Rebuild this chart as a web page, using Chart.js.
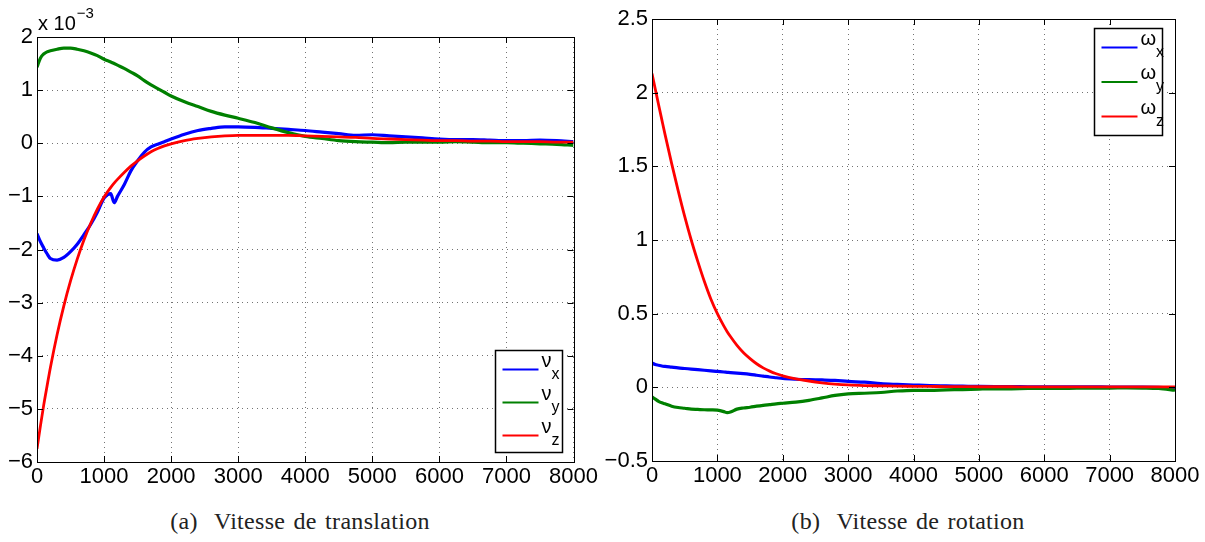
<!DOCTYPE html>
<html>
<head>
<meta charset="utf-8">
<script src="https://cdn.jsdelivr.net/npm/chart.js@4/dist/chart.umd.min.js"></script>
<style>
  html, body { margin: 0; padding: 0; background: #fff; }
  #wrap { position: relative; width: 1205px; height: 542px; overflow: hidden; }
  canvas { position: absolute; top: 0; }
  #cTrans { left: 0; }
  #cRot { left: 600px; }
  .caption {
    position: absolute; top: 508px;
    font-family: "Liberation Serif", "DejaVu Serif", serif;
    font-size: 24px; letter-spacing: 0.3px; word-spacing: 2px;
    color: #222; white-space: nowrap;
    transform: translateX(-50%);
  }
</style>
</head>
<body>
<div id="wrap">
  <canvas id="cTrans" width="600" height="500"></canvas>
  <canvas id="cRot" width="605" height="500"></canvas>
  <div class="caption" style="left:300px">(a)&nbsp; Vitesse de translation</div>
  <div class="caption" style="left:908px">(b)&nbsp; Vitesse de rotation</div>
</div>
<script>
'use strict';

// sample instants (shared by all series)
const T = [0, 50, 100, 150, 200, 300, 400, 500, 600, 700, 800, 900, 1000, 1100, 1150, 1200,
  1300, 1400, 1500, 1600, 1700, 1800, 1900, 2000, 2200, 2400, 2600, 2800, 3000, 3250, 3500,
  3750, 4000, 4250, 4500, 4750, 5000, 5250, 5500, 5750, 6000, 6250, 6500, 6750, 7000, 7250,
  7500, 7750, 8000];

// translation speed (x 1e-3)
const NU_X = [-1.7, -1.85, -1.97, -2.08, -2.17, -2.2, -2.15, -2.04, -1.9, -1.72, -1.53, -1.3,
  -1.03, -0.95, -1.12, -1.0, -0.78, -0.52, -0.33, -0.17, -0.07, -0.02, 0.03, 0.08, 0.17, 0.24,
  0.28, 0.31, 0.31, 0.3, 0.28, 0.26, 0.24, 0.21, 0.18, 0.15, 0.16, 0.14, 0.12, 0.1, 0.08, 0.07,
  0.07, 0.06, 0.05, 0.05, 0.06, 0.05, 0.03];
const NU_Y = [1.43, 1.6, 1.68, 1.72, 1.74, 1.77, 1.79, 1.79, 1.77, 1.74, 1.7, 1.65, 1.58, 1.53,
  1.5, 1.47, 1.41, 1.34, 1.27, 1.18, 1.1, 1.03, 0.96, 0.89, 0.78, 0.69, 0.6, 0.53, 0.47, 0.39,
  0.29, 0.2, 0.13, 0.09, 0.05, 0.03, 0.02, 0.01, 0.02, 0.02, 0.02, 0.03, 0.02, 0.01, 0.01, 0.0,
  -0.01, -0.02, -0.04];
const NU_Z = [-5.75, -5.33, -4.93, -4.57, -4.22, -3.6, -3.06, -2.59, -2.18, -1.82, -1.51, -1.24,
  -1.01, -0.83, -0.75, -0.68, -0.55, -0.43, -0.33, -0.24, -0.16, -0.1, -0.05, -0.01, 0.05, 0.09,
  0.12, 0.14, 0.15, 0.15, 0.15, 0.15, 0.14, 0.13, 0.12, 0.11, 0.09, 0.08, 0.07, 0.06, 0.05, 0.05,
  0.04, 0.04, 0.03, 0.03, 0.03, 0.02, 0.02];

// rotation speed
const OM_X = [0.165, 0.155, 0.15, 0.145, 0.142, 0.137, 0.132, 0.128, 0.124, 0.12, 0.116, 0.112,
  0.108, 0.104, 0.102, 0.1, 0.097, 0.093, 0.088, 0.082, 0.076, 0.07, 0.065, 0.06, 0.055, 0.052,
  0.05, 0.047, 0.04, 0.035, 0.025, 0.02, 0.016, 0.012, 0.01, 0.008, 0.006, 0.005, 0.005, 0.004,
  0.004, 0.003, 0.003, 0.003, 0.002, 0.002, 0.002, 0.0, -0.005];
const OM_Y = [-0.065, -0.08, -0.095, -0.105, -0.112, -0.128, -0.137, -0.142, -0.148, -0.15,
  -0.152, -0.153, -0.155, -0.165, -0.172, -0.168, -0.148, -0.14, -0.135, -0.128, -0.122, -0.117,
  -0.112, -0.108, -0.1, -0.088, -0.072, -0.055, -0.045, -0.04, -0.035, -0.025, -0.02, -0.02,
  -0.017, -0.015, -0.012, -0.01, -0.01, -0.008, -0.008, -0.007, -0.006, -0.005, -0.005, -0.004,
  -0.005, -0.008, -0.02];
const OM_Z = [2.13, 2.025, 1.92, 1.817, 1.715, 1.52, 1.335, 1.16, 1.0, 0.855, 0.72, 0.6, 0.5,
  0.415, 0.378, 0.345, 0.285, 0.235, 0.195, 0.16, 0.132, 0.11, 0.092, 0.078, 0.058, 0.043, 0.031,
  0.022, 0.016, 0.012, 0.01, 0.008, 0.007, 0.006, 0.005, 0.005, 0.004, 0.004, 0.004, 0.003, 0.003,
  0.003, 0.003, 0.003, 0.003, 0.003, 0.003, 0.003, 0.003];

const X_TICKS = { min: 0, max: 8000, step: 1000 };
const V_TICKS = { min: -6, max: 2, step: 1 };
const W_TICKS = { min: -0.5, max: 2.5, step: 0.5 };

const COLORS = ['#0000ff', '#008000', '#ff0000'];
const SANS = '"Liberation Sans Narrow", "Liberation Sans", Arial, sans-serif';
const TICK_FONT = { family: SANS, size: 22 };

const pts = ys => T.map((t, i) => ({ x: t, y: ys[i] }));
const minus = v => String(v).replace('-', '\u2212');

// box around the axes, inward tick marks, legend and exponent label
const axesDecor = {
  id: 'axesDecor',
  afterDraw(chart, args, opts) {
    const { ctx, chartArea: a, scales } = chart;
    ctx.save();
    ctx.strokeStyle = '#000';
    ctx.lineWidth = 1;
    ctx.beginPath();
    const tl = 6;
    scales.x.ticks.forEach(t => {
      const px = Math.round(scales.x.getPixelForValue(t.value)) + 0.5;
      ctx.moveTo(px, a.bottom); ctx.lineTo(px, a.bottom - tl);
      ctx.moveTo(px, a.top); ctx.lineTo(px, a.top + tl);
    });
    scales.y.ticks.forEach(t => {
      const py = Math.round(scales.y.getPixelForValue(t.value)) + 0.5;
      ctx.moveTo(a.left, py); ctx.lineTo(a.left + tl, py);
      ctx.moveTo(a.right, py); ctx.lineTo(a.right - tl, py);
    });
    ctx.stroke();
    ctx.strokeRect(Math.round(a.left) + 0.5, Math.round(a.top) + 0.5,
      Math.round(a.right - a.left), Math.round(a.bottom - a.top));

    // legend
    const L = opts.legend;
    ctx.fillStyle = '#fff';
    ctx.fillRect(L.x, L.y, L.w, L.h);
    ctx.lineWidth = 1.5;
    ctx.strokeRect(L.x, L.y, L.w, L.h);
    chart.data.datasets.forEach((ds, i) => {
      const ly = L.y + L.first + i * L.gap;
      ctx.strokeStyle = ds.borderColor;
      ctx.lineWidth = 2.2;
      ctx.beginPath();
      ctx.moveTo(L.x + 7, ly); ctx.lineTo(L.x + 43, ly);
      ctx.stroke();
      ctx.fillStyle = '#000';
      ctx.textBaseline = 'alphabetic';
      ctx.font = '20px ' + SANS;
      ctx.fillText(ds.symbol, L.x + 46, ly - 3);
      const sw = ctx.measureText(ds.symbol).width;
      ctx.font = '16px ' + SANS;
      ctx.fillText(ds.sub, L.x + 46 + sw, ly + 9);
    });

    if (opts.exponent) {
      ctx.fillStyle = '#000';
      ctx.font = '20px ' + SANS;
      ctx.fillText('x 10', a.left + 1, a.top - 7);
      const w = ctx.measureText('x 10').width;
      ctx.font = '15px ' + SANS;
      ctx.fillText('\u22123', a.left + 1 + w + 1, a.top - 19);
    }
    ctx.restore();
  }
};

function makeChart(id, series, symbol, yt, cfg) {
  const datasets = series.map((ys, i) => ({
    data: pts(ys),
    symbol: symbol,
    sub: ['x', 'y', 'z'][i],
    borderColor: COLORS[i],
    borderWidth: i === 2 ? 2.8 : 3.2,
    pointRadius: 0,
    cubicInterpolationMode: 'monotone',
    order: 3 - i,
  }));
  const grid = { color: 'rgba(0,0,0,0.55)', lineWidth: 1, drawTicks: false };
  const border = { display: false, dash: [1, 4] };
  return new Chart(document.getElementById(id), {
    type: 'line',
    data: { datasets },
    options: {
      responsive: false,
      animation: false,
      events: [],
      layout: { padding: cfg.padding },
      plugins: { legend: { display: false }, tooltip: { enabled: false },
        axesDecor: { legend: cfg.legend, exponent: cfg.exponent } },
      scales: {
        x: {
          type: 'linear', min: X_TICKS.min, max: X_TICKS.max,
          grid, border,
          ticks: { stepSize: X_TICKS.step, padding: 2, color: '#000', font: TICK_FONT,
            maxRotation: 0, callback: v => minus(v) },
          afterFit: s => { s.height = 38; },
        },
        y: {
          min: yt.min, max: yt.max,
          grid, border,
          ticks: { stepSize: yt.step, padding: 4, color: '#000', font: TICK_FONT,
            callback: v => minus(v) },
          afterFit: s => { s.width = cfg.yWidth; },
        },
      },
    },
    plugins: [axesDecor],
  });
}

makeChart('cTrans', [NU_X, NU_Y, NU_Z], '\u03bd', V_TICKS, {
  padding: { top: 37, right: 25, bottom: 0, left: 0 },
  yWidth: 37,
  exponent: true,
  legend: { x: 495.5, y: 350.5, w: 67, h: 102, first: 19, gap: 33 },
});

makeChart('cRot', [OM_X, OM_Y, OM_Z], '\u03c9', W_TICKS, {
  padding: { top: 19, right: 30, bottom: 1, left: 0 },
  yWidth: 52,
  exponent: false,
  legend: { x: 494.5, y: 28.5, w: 68, h: 107, first: 19, gap: 34.5 },
});
</script>
</body>
</html>
